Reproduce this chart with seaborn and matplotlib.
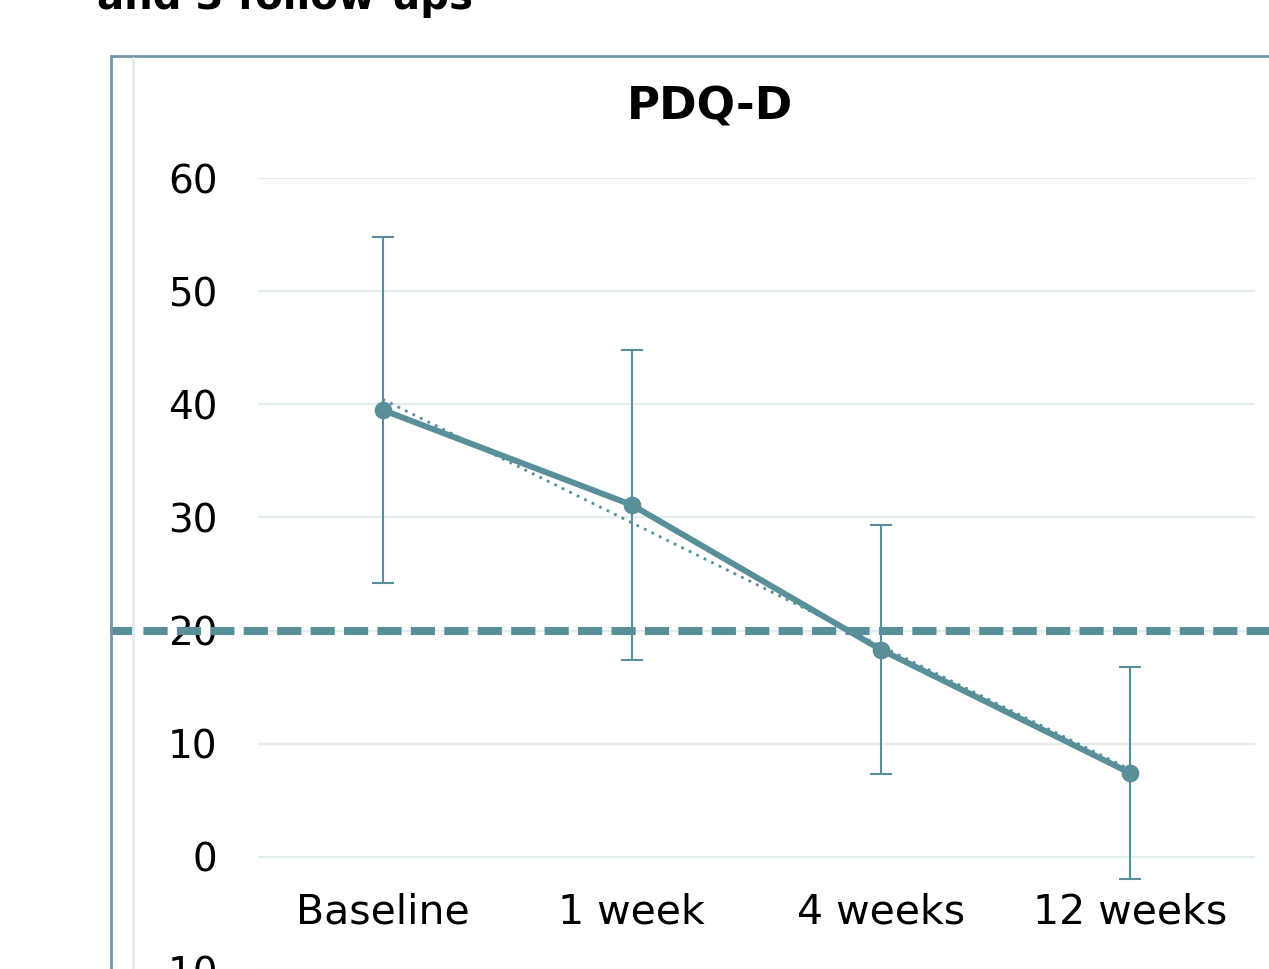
import numpy as np
import matplotlib
matplotlib.use("Agg")
import matplotlib.pyplot as plt
import matplotlib.transforms as mtransforms
from matplotlib.patches import Rectangle
from matplotlib.lines import Line2D
import seaborn as sns

# ====================== DATA ======================
categories = ["Baseline", "1 week", "4 weeks", "12 weeks"]
means = [39.5, 31.1, 18.3, 7.4]
sds = [15.3, 13.7, 11.0, 9.4]
cutoff = 20
y_ticks = [-10, 0, 10, 20, 30, 40, 50, 60]

TEAL = "#588f98"
GRID = "#e3eded"
FRAME = "#6f97a4"

sns.set_style("white")
plt.rcParams["font.family"] = ["DejaVu Sans"]
plt.rcParams["text.color"] = "black"

fig = plt.figure(figsize=(12.69, 9.69), dpi=100)
W, H = 1269, 969
ax = fig.add_axes([258 / W, -1 / H, 997 / W, (970 - 178) / H])

x_pos = np.arange(len(categories))

# error bars (mean +/- SD)
ax.errorbar(x_pos, means, yerr=sds, fmt="none", ecolor=TEAL,
            elinewidth=1.5, capsize=8, capthick=1.5, zorder=2)

# main line
sns.pointplot(x=categories, y=means, color=TEAL, markers="o", linestyles="-",
              errorbar=None, linewidth=4.3, markersize=9.5, ax=ax, zorder=3)

# linear trendline (like Excel)
slope, intercept = np.polyfit(x_pos, means, 1)
ax.plot(x_pos, slope * x_pos + intercept, color=TEAL, lw=2,
        linestyle=(0, (1, 2)), zorder=2.5)

# cut-off line runs across the whole chart frame
blend = mtransforms.blended_transform_factory(fig.transFigure, ax.transData)
ax.add_line(Line2D([110 / W, 1.0], [cutoff, cutoff], transform=blend,
                   color=TEAL, lw=5.8, linestyle=(0, (3.0, 1.15)),
                   clip_on=False, zorder=4))

ax.set_xlim(-0.5, len(categories) - 0.5)
ax.set_ylim(-10, 60)
ax.set_yticks(y_ticks)
ax.set_yticklabels([str(t) for t in y_ticks])
ax.yaxis.grid(True, color=GRID, lw=1.6)
ax.xaxis.grid(False)
for s in ax.spines.values():
    s.set_visible(False)
ax.spines["bottom"].set_position(("data", 0))
ax.tick_params(axis="y", length=0, pad=29, labelsize=28, labelcolor="black")
ax.tick_params(axis="x", length=0, pad=26, labelsize=29.5, labelcolor="black")
ax.set_xlabel("")
ax.set_ylabel("")

# chart title and surrounding frame
fig.text(710 / W, (H - 120) / H, "PDQ-D", ha="center", va="baseline",
         fontsize=32.5, fontweight="bold", color="black")
fig.text(97 / W, (H - 9) / H, "and 3 follow-ups", ha="left", va="baseline",
         fontsize=29, fontweight="bold", color="black")
fig.add_artist(Rectangle((111 / W, -0.2), 1.2, (H - 56) / H + 0.2,
                         transform=fig.transFigure, fill=False,
                         edgecolor=FRAME, lw=2))
fig.add_artist(Line2D([133 / W, 133 / W], [0, (H - 58) / H],
                      transform=fig.transFigure, color="#e2eef0", lw=2))

fig.savefig("out.png", dpi=100)
